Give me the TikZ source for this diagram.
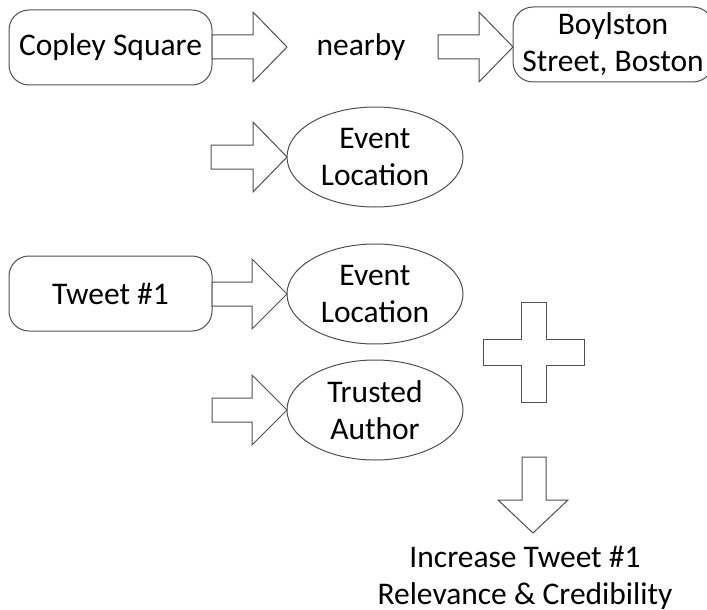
\documentclass[tikz,border=0pt]{standalone}
\usepackage{fontspec}
\setmainfont{Carlito}
\usetikzlibrary{shapes.geometric}
\definecolor{linegray}{HTML}{505050}
\newcommand\harrow[4]{% x0, xb, tip, cy
  \draw[blk] (#1,#4-12) -- (#2,#4-12) -- (#2,#4-35) -- (#3,#4) -- (#2,#4+35) -- (#2,#4+12) -- (#1,#4+12) -- cycle;}
\begin{document}
\begin{tikzpicture}[x=1pt,y=-1pt,
  every node/.style={font=\fontsize{31.5}{37}\selectfont, text=black},
  rbox/.style={draw=linegray, line width=1pt, rounded corners=20pt, minimum width=203pt, minimum height=75pt, inner sep=0pt, align=center},
  oval/.style={draw=linegray, line width=1pt, ellipse, minimum width=176pt, minimum height=100pt, inner sep=0pt, align=center},
  blk/.style={draw=linegray, line width=1pt, fill=white, line join=miter}]
\useasboundingbox (0,0) rectangle (707,610);
% nodes
\node[rbox] (copley) at (110.5,47.5) {Copley Square};
\node (nearby) at (361,47) {nearby};
\node[rbox, minimum width=200pt] (boyl) at (613,44.5) {Boylston\\Street, Boston};
\node[oval] (ev1) at (375,157) {Event\\Location};
\node[rbox] (tweet) at (110.5,293.5) {Tweet \#1};
\node[oval] (ev2) at (375,294) {Event\\Location};
\node[oval] (trust) at (375,410) {Trusted\\Author};
\node[align=center] (result) at (525,578) {Increase Tweet \#1\\Relevance \& Credibility};
% block arrows
\harrow{212}{253}{287}{47}
\harrow{438}{479}{513}{47}
\harrow{211}{253}{287}{157}
\harrow{212}{252}{287}{294}
\harrow{212}{252}{287}{410}
% plus sign
\draw[blk] (521,302) -- (546,302) -- (546,339) -- (584,339) -- (584,365) -- (546,365)
  -- (546,402) -- (521,402) -- (521,365) -- (483,365) -- (483,339) -- (521,339) -- cycle;
% down arrow
\draw[blk] (522,457) -- (546,457) -- (546,500) -- (568,500) -- (533,533) -- (498,500) -- (522,500) -- cycle;
\end{tikzpicture}
\end{document}
